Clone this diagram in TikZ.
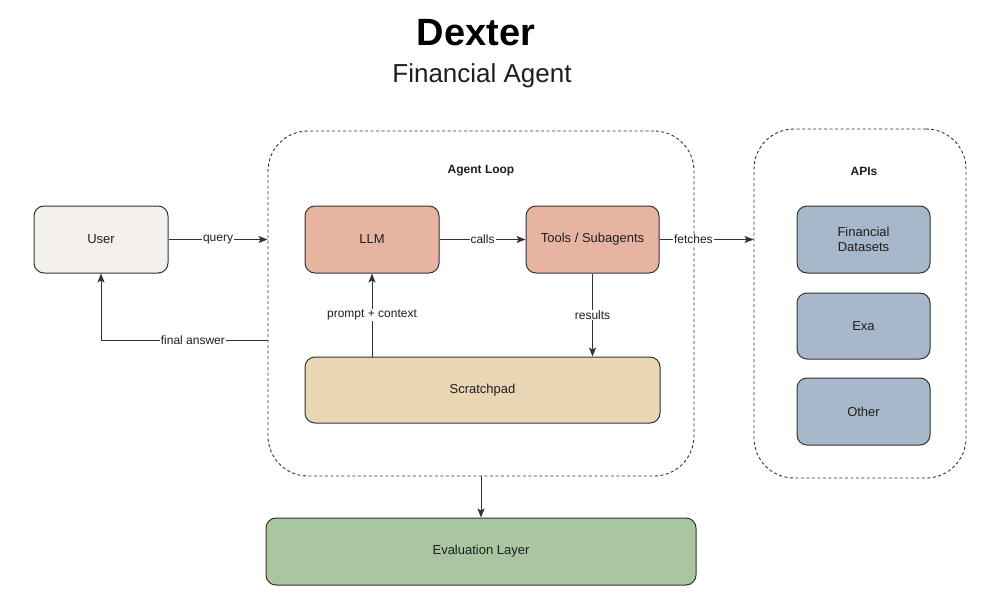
\documentclass[tikz,border=0pt]{standalone}
\usepackage{fontspec}
\setmainfont{Liberation Sans}
\usetikzlibrary{arrows.meta}
\definecolor{linec}{HTML}{333333}
\definecolor{userfill}{HTML}{F4F1ED}
\definecolor{llmfill}{HTML}{E8B4A2}
\definecolor{scratchfill}{HTML}{E9D6B5}
\definecolor{evalfill}{HTML}{A9C6A0}
\definecolor{apifill}{HTML}{A7B8CB}
\definecolor{txt}{HTML}{1E1E1E}
\tikzset{
  box/.style={draw=linec, line width=1pt, rounded corners=10pt, inner sep=0pt, font=\fontsize{13}{15}\selectfont, text=txt, align=center},
  container/.style={draw=linec, line width=0.9pt, dash pattern=on 3pt off 2.5pt, rounded corners=40pt, inner sep=0pt},
  conn/.style={draw=linec, line width=1pt, -{Stealth[length=9pt,width=7pt,inset=2pt]}},
  lbl/.style={fill=white, inner sep=1pt, font=\fontsize{12}{14}\selectfont, text=txt},
  heading/.style={font=\bfseries\fontsize{12}{14}\selectfont, text=txt}
}
\begin{document}
\begin{tikzpicture}[x=1pt,y=-1pt]
\useasboundingbox (0,0) rectangle (995,615);
% titles
\node[font=\bfseries\fontsize{38}{42}\selectfont, text=black] (title) at (476,33) {Dexter};
\node[font=\fontsize{26}{30}\selectfont, text=txt] (subtitle) at (482,76) {Financial Agent};
% containers
\node[container, minimum width=426pt, minimum height=345pt] (agent) at (481,303.5) {};
\node[container, minimum width=212pt, minimum height=349pt] (apis) at (860,303.5) {};
\node[heading] (agentlbl) at (481,171) {Agent Loop};
\node[heading] (apislbl) at (864,171) {APIs};
% boxes
\node[box, fill=userfill, minimum width=134pt, minimum height=67pt] (user) at (101,239.5) {User};
\node[box, fill=llmfill, minimum width=134pt, minimum height=67pt] (llm) at (372,239.5) {LLM};
\node[box, fill=llmfill, minimum width=133pt, minimum height=67pt] (tools) at (592.5,239.5) {Tools / Subagents};
\node[box, fill=scratchfill, minimum width=355pt, minimum height=66pt] (scratch) at (482.5,390) {Scratchpad};
\node[box, fill=evalfill, minimum width=430pt, minimum height=67pt] (eval) at (481,551.5) {Evaluation Layer};
\node[box, fill=apifill, minimum width=133pt, minimum height=67pt] (fd) at (863.5,239.5) {Financial\\Datasets};
\node[box, fill=apifill, minimum width=133pt, minimum height=66pt] (exa) at (863.5,326) {Exa};
\node[box, fill=apifill, minimum width=133pt, minimum height=67pt] (other) at (863.5,411.5) {Other};
% connectors
\coordinate (fa) at (268,340);
\draw[conn] (user.east) -- node[lbl, pos=0.5] {query} (user.east -| agent.west);
\draw[conn] (fa) -- node[lbl, pos=0.45] {final answer} (fa -| user.south) -- (user.south);
\draw[conn] (llm.east) -- node[lbl, pos=0.5] {calls} (tools.west);
\draw[conn] (tools.east) -- node[lbl, pos=0.36] {fetches} (tools.east -| apis.west);
\draw[conn] (scratch.north -| llm.south) -- node[lbl, pos=0.5] {prompt + context} (llm.south);
\draw[conn] (tools.south) -- node[lbl, pos=0.5] {results} (tools.south |- scratch.north);
\draw[conn] (agent.south) -- (eval.north);
\end{tikzpicture}
\end{document}
